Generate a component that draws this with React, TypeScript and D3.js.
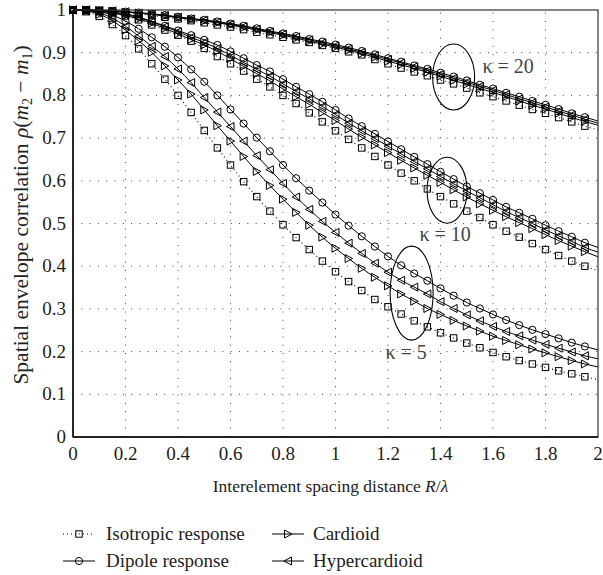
import React, { useLayoutEffect } from 'react'
import * as d3 from 'd3'

// interelement spacing R/lambda, one sample every 0.05
const spacing = [0, 0.05, 0.1, 0.15, 0.2, 0.25, 0.3, 0.35, 0.4, 0.45, 0.5, 0.55, 0.6, 0.65, 0.7, 0.75, 0.8, 0.85, 0.9, 0.95,
  1.0, 1.05, 1.1, 1.15, 1.2, 1.25, 1.3, 1.35, 1.4, 1.45, 1.5, 1.55, 1.6, 1.65, 1.7, 1.75, 1.8, 1.85, 1.9, 1.95, 2.0]

// kappa = 5
const iso5 = [1.0, 0.996, 0.985, 0.966, 0.940, 0.909, 0.874, 0.838, 0.800, 0.760, 0.718, 0.677, 0.637, 0.598, 0.563, 0.529, 0.497, 0.467, 0.439, 0.412,
  0.387, 0.364, 0.343, 0.322, 0.305, 0.288, 0.272, 0.258, 0.244, 0.232, 0.220, 0.209, 0.198, 0.188, 0.179, 0.171, 0.163, 0.155, 0.148, 0.141, 0.135]
const dipole5 = [1.0, 0.999, 0.996, 0.988, 0.974, 0.956, 0.936, 0.914, 0.889, 0.861, 0.832, 0.800, 0.767, 0.734, 0.701, 0.669, 0.637, 0.606, 0.577, 0.549,
  0.521, 0.495, 0.470, 0.446, 0.423, 0.402, 0.383, 0.366, 0.348, 0.331, 0.315, 0.301, 0.287, 0.274, 0.262, 0.251, 0.241, 0.231, 0.221, 0.212, 0.204]
const cardioid5 = [1.0, 0.998, 0.990, 0.975, 0.953, 0.928, 0.901, 0.869, 0.836, 0.803, 0.766, 0.729, 0.693, 0.657, 0.622, 0.589, 0.557, 0.526, 0.496, 0.468,
  0.442, 0.418, 0.395, 0.374, 0.354, 0.335, 0.318, 0.301, 0.287, 0.273, 0.260, 0.248, 0.236, 0.226, 0.216, 0.206, 0.197, 0.188, 0.179, 0.171, 0.164]
const hyper5 = [1.0, 0.998, 0.993, 0.981, 0.962, 0.939, 0.915, 0.891, 0.862, 0.830, 0.795, 0.761, 0.727, 0.693, 0.659, 0.626, 0.594, 0.562, 0.533, 0.505,
  0.479, 0.454, 0.430, 0.407, 0.386, 0.367, 0.351, 0.335, 0.317, 0.301, 0.286, 0.272, 0.259, 0.247, 0.237, 0.227, 0.217, 0.208, 0.199, 0.190, 0.183]

// kappa = 10
const iso10 = [1.0, 1.0, 0.997, 0.993, 0.986, 0.977, 0.965, 0.953, 0.941, 0.927, 0.910, 0.891, 0.874, 0.857, 0.838, 0.820, 0.800, 0.781, 0.759, 0.738,
  0.717, 0.697, 0.677, 0.657, 0.637, 0.618, 0.600, 0.581, 0.563, 0.546, 0.529, 0.514, 0.497, 0.482, 0.468, 0.453, 0.439, 0.425, 0.412, 0.400, 0.390]
const dipole10 = [1.0, 1.0, 0.998, 0.995, 0.991, 0.984, 0.973, 0.963, 0.952, 0.941, 0.930, 0.918, 0.903, 0.887, 0.871, 0.856, 0.838, 0.820, 0.803, 0.785,
  0.766, 0.746, 0.728, 0.710, 0.692, 0.674, 0.656, 0.639, 0.621, 0.604, 0.587, 0.571, 0.555, 0.539, 0.525, 0.511, 0.496, 0.482, 0.469, 0.455, 0.444]
const cardioid10 = [1.0, 0.999, 0.997, 0.993, 0.987, 0.979, 0.969, 0.957, 0.944, 0.931, 0.918, 0.903, 0.886, 0.868, 0.851, 0.834, 0.815, 0.797, 0.779, 0.760,
  0.741, 0.721, 0.702, 0.684, 0.666, 0.648, 0.630, 0.613, 0.596, 0.579, 0.562, 0.546, 0.531, 0.516, 0.502, 0.488, 0.474, 0.460, 0.447, 0.434, 0.422]
const hyper10 = [1.0, 1.0, 0.998, 0.994, 0.989, 0.982, 0.972, 0.961, 0.949, 0.936, 0.924, 0.910, 0.894, 0.877, 0.861, 0.845, 0.827, 0.809, 0.792, 0.774,
  0.755, 0.735, 0.717, 0.699, 0.681, 0.663, 0.645, 0.628, 0.610, 0.593, 0.576, 0.560, 0.544, 0.528, 0.514, 0.500, 0.485, 0.471, 0.458, 0.444, 0.433]

// kappa = 20
const iso20 = [1.0, 1.0, 0.999, 0.997, 0.994, 0.991, 0.987, 0.983, 0.979, 0.975, 0.970, 0.965, 0.960, 0.954, 0.948, 0.942, 0.936, 0.930, 0.924, 0.917,
  0.910, 0.902, 0.895, 0.884, 0.874, 0.864, 0.855, 0.846, 0.836, 0.827, 0.817, 0.806, 0.797, 0.787, 0.777, 0.767, 0.758, 0.748, 0.738, 0.728, 0.719]
const dipole20 = [1.0, 1.0, 0.999, 0.998, 0.996, 0.994, 0.991, 0.988, 0.984, 0.980, 0.977, 0.973, 0.968, 0.963, 0.957, 0.951, 0.945, 0.939, 0.932, 0.926,
  0.919, 0.912, 0.904, 0.896, 0.887, 0.879, 0.870, 0.862, 0.853, 0.844, 0.835, 0.825, 0.816, 0.806, 0.797, 0.787, 0.778, 0.768, 0.758, 0.749, 0.740]
const cardioid20 = [1.0, 1.0, 0.999, 0.997, 0.995, 0.993, 0.990, 0.986, 0.982, 0.978, 0.974, 0.970, 0.965, 0.959, 0.953, 0.947, 0.941, 0.934, 0.927, 0.920,
  0.913, 0.906, 0.898, 0.889, 0.880, 0.872, 0.863, 0.854, 0.845, 0.835, 0.826, 0.816, 0.807, 0.797, 0.787, 0.777, 0.768, 0.758, 0.748, 0.739, 0.730]
const hyper20 = [1.0, 1.0, 0.999, 0.998, 0.996, 0.993, 0.990, 0.987, 0.983, 0.979, 0.976, 0.971, 0.966, 0.961, 0.955, 0.949, 0.943, 0.937, 0.930, 0.923,
  0.916, 0.909, 0.901, 0.893, 0.884, 0.876, 0.867, 0.858, 0.849, 0.840, 0.831, 0.821, 0.812, 0.802, 0.792, 0.783, 0.773, 0.763, 0.754, 0.744, 0.735]

const xTicks = [0, 0.2, 0.4, 0.6, 0.8, 1, 1.2, 1.4, 1.6, 1.8, 2]
const yTicks = [0, 0.1, 0.2, 0.3, 0.4, 0.5, 0.6, 0.7, 0.8, 0.9, 1]

const kappaLabels = ['κ = 20', 'κ = 10', 'κ = 5']
const legendNames = ['Isotropic response', 'Dipole response', 'Cardioid', 'Hypercardioid']

type Kind = 'iso' | 'dipole' | 'cardioid' | 'hyper'

const series: { kind: Kind, values: number[] }[] = [
  { kind: 'iso', values: iso5 }, { kind: 'dipole', values: dipole5 }, { kind: 'cardioid', values: cardioid5 }, { kind: 'hyper', values: hyper5 },
  { kind: 'iso', values: iso10 }, { kind: 'dipole', values: dipole10 }, { kind: 'cardioid', values: cardioid10 }, { kind: 'hyper', values: hyper10 },
  { kind: 'iso', values: iso20 }, { kind: 'dipole', values: dipole20 }, { kind: 'cardioid', values: cardioid20 }, { kind: 'hyper', values: hyper20 },
]

const W = 603, H = 575
const margin = { left: 73, right: 5, top: 10, bottom: 138 }
const font = '"Liberation Serif", "DejaVu Serif", serif'

const x = d3.scaleLinear().domain([0, 2]).range([margin.left, W - margin.right])
const y = d3.scaleLinear().domain([0, 1]).range([H - margin.bottom, margin.top])

function Marker ({ kind, cx, cy }: { kind: Kind, cx: number, cy: number }) {
  const s = 3.2
  if (kind === 'iso') return <rect x={cx - s} y={cy - s} width={2 * s} height={2 * s} fill='none' stroke='#000' strokeWidth={1} />
  if (kind === 'dipole') return <circle cx={cx} cy={cy} r={3.6} fill='none' stroke='#000' strokeWidth={1} />
  if (kind === 'cardioid') return <path d={`M${cx - 3.5},${cy - 4}L${cx + 4},${cy}L${cx - 3.5},${cy + 4}Z`} fill='none' stroke='#000' strokeWidth={1} />
  return <path d={`M${cx + 3.5},${cy - 4}L${cx - 4},${cy}L${cx + 3.5},${cy + 4}Z`} fill='none' stroke='#000' strokeWidth={1} />
}

export default function App () {
  useLayoutEffect(() => { document.body.style.margin = '0' }, [])

  const lineGen = d3.line<number>().x((_, i) => x(spacing[i])).y(d => y(d)).curve(d3.curveMonotoneX)
  const x0 = x(0), x1 = x(2), y0 = y(0), y1 = y(1)

  return (
    <svg width={W} height={H} style={{ display: 'block', background: '#fff' }} fontFamily={font}>
      {/* grid */}
      <g stroke='#444' strokeWidth={1} strokeDasharray='1 7.3'>
        {xTicks.slice(1, -1).map(t => <line key={'gx' + t} x1={x(t)} x2={x(t)} y1={y0} y2={y1} />)}
        {yTicks.slice(1, -1).map(t => <line key={'gy' + t} x1={x0} x2={x1} y1={y(t)} y2={y(t)} />)}
      </g>

      {/* curves */}
      {series.map((s, k) => (
        <g key={k}>
          <path d={lineGen(s.values) || ''} fill='none' stroke='#000' strokeWidth={s.kind === 'iso' ? 1.1 : 1}
            strokeDasharray={s.kind === 'iso' ? '1 3' : undefined} />
          {s.values.slice(0, -1).map((v, i) => <Marker key={i} kind={s.kind} cx={x(spacing[i])} cy={y(v)} />)}
        </g>
      ))}

      {/* frame */}
      <rect x={x0} y={y1} width={x1 - x0} height={y0 - y1} fill='none' stroke='#333' strokeWidth={1.2} />
      <line x1={x0} x2={x1} y1={y0} y2={y0} stroke='#000' strokeWidth={1.4} />
      <line x1={x0} x2={x0} y1={y0} y2={y1} stroke='#000' strokeWidth={1.4} />

      {/* group ellipses and labels */}
      <g fill='none' stroke='#000' strokeWidth={1.1}>
        <ellipse cx={x(1.45)} cy={y(0.843)} rx={21} ry={33} />
        <ellipse cx={x(1.425)} cy={y(0.578)} rx={20} ry={33} />
        <ellipse cx={x(1.29)} cy={y(0.337)} rx={21.5} ry={47} />
      </g>
      <g fill='#444' fontSize={20}>
        <text x={x(1.56)} y={y(0.852)}>{kappaLabels[0]}</text>
        <text x={x(1.32)} y={y(0.46)}>{kappaLabels[1]}</text>
        <text x={x(1.19)} y={y(0.183)}>{kappaLabels[2]}</text>
      </g>

      {/* tick labels */}
      <g fontSize={19} fill='#222'>
        {xTicks.map(t => <text key={'tx' + t} x={x(t)} y={y0 + 23} textAnchor='middle'>{String(t)}</text>)}
        {yTicks.map(t => <text key={'ty' + t} x={x0 - 7} y={y(t) + 6} textAnchor='end'>{String(t)}</text>)}
      </g>

      {/* axis titles */}
      <text x={(x0 + x1) / 2 - 5} y={y0 + 55} textAnchor='middle' fontSize={17.5} fill='#222'>
        Interelement spacing distance <tspan fontStyle='italic'>R</tspan>/<tspan fontStyle='italic'>λ</tspan>
      </text>
      <text transform={`translate(28, 215) rotate(-90)`} textAnchor='middle' fontSize={21.5} fill='#222'>
        Spatial envelope correlation <tspan fontStyle='italic'>ρ</tspan>(<tspan fontStyle='italic'>m</tspan><tspan fontSize={14} dy={4}>2</tspan><tspan dy={-4}> − </tspan><tspan fontStyle='italic'>m</tspan><tspan fontSize={14} dy={4}>1</tspan><tspan dy={-4}>)</tspan>
      </text>

      {/* legend */}
      {legendNames.map((name, i) => {
        const kinds: Kind[] = ['iso', 'dipole', 'cardioid', 'hyper']
        const col = i < 2 ? 0 : 1
        const row = i % 2
        const lx = col === 0 ? 63 : 272
        const ly = 534 + row * 27
        return (
          <g key={name}>
            <line x1={lx} x2={lx + 32} y1={ly} y2={ly} stroke='#000' strokeWidth={1}
              strokeDasharray={kinds[i] === 'iso' ? '1 3' : undefined} />
            <Marker kind={kinds[i]} cx={lx + 16} cy={ly} />
            <text x={col === 0 ? 106 : 313} y={ly + 6} fontSize={19} fill='#222'>{name}</text>
          </g>
        )
      })}
    </svg>
  )
}
